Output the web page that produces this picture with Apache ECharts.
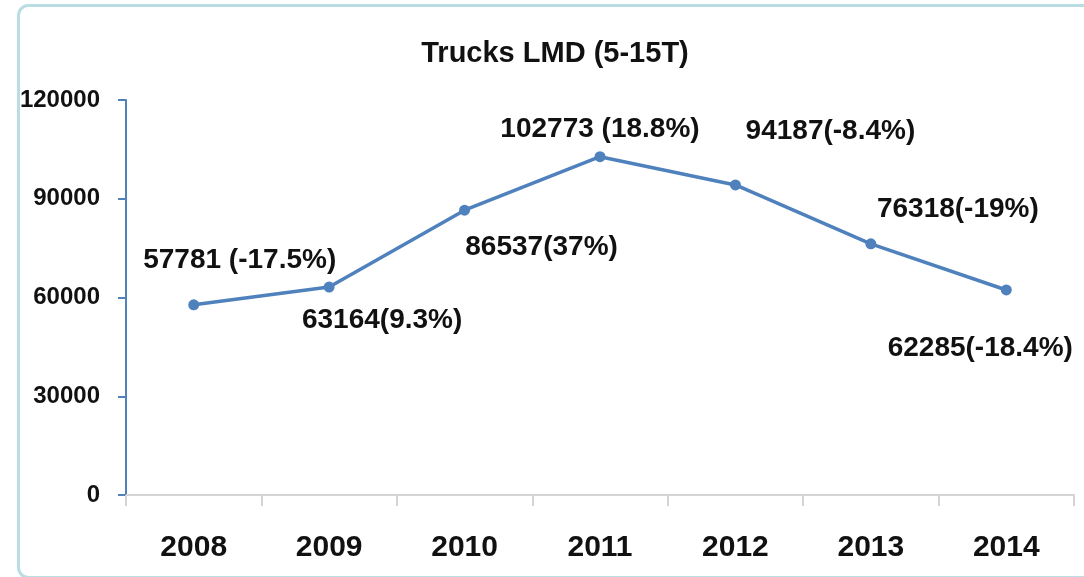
<!DOCTYPE html>
<html>
<head>
<meta charset="utf-8">
<script src="https://cdn.jsdelivr.net/npm/echarts@6/dist/echarts.min.js"></script>
<style>
  html, body { margin: 0; padding: 0; background: #fff; }
  #chart { width: 1084px; height: 577px; }
</style>
</head>
<body>
<div id="chart"></div>
<script>
const years = ['2008', '2009', '2010', '2011', '2012', '2013', '2014'];
const sales = [57781, 63164, 86537, 102773, 94187, 76318, 62285];
const growth = [' (-17.5%)', '(9.3%)', '(37%)', ' (18.8%)', '(-8.4%)', '(-19%)', '(-18.4%)'];
const yTicks = [0, 30000, 60000, 90000, 120000];

// where each value label sits relative to its point
const labelOffsets = [[46, -45], [53, 33], [77, 37], [0, -27], [95, -54], [87, -35], [-26, 58]];

const font = '"Liberation Sans", Arial, sans-serif';

const chart = echarts.init(document.getElementById('chart'));

chart.setOption({
  animation: false,
  graphic: [
    {
      type: 'rect',
      left: 16,
      top: 3,
      shape: { width: 1200, height: 572, r: 10 },
      style: { fill: 'none', stroke: '#b9dde3', lineWidth: 3 },
      silent: true,
    },
  ],
  title: {
    text: 'Trucks LMD (5-15T)',
    left: 550,
    top: 34,
    textAlign: 'center',
    textStyle: {
      fontFamily: font,
      fontWeight: 'bold',
      fontSize: 29,
      color: '#111',
    },
  },
  grid: {
    left: 126,
    right: 10,
    top: 100,
    bottom: 82,
    containLabel: false,
    outerBoundsMode: 'none',
  },
  xAxis: {
    type: 'category',
    data: years,
    boundaryGap: true,
    axisLine: { lineStyle: { color: '#d4d4d4', width: 2 } },
    axisTick: { show: true, length: 11, lineStyle: { color: '#d4d4d4', width: 2 } },
    axisLabel: {
      margin: 38,
      fontFamily: font,
      fontWeight: 'bold',
      fontSize: 30,
      lineHeight: 30,
      color: '#111',
    },
  },
  yAxis: {
    type: 'value',
    min: yTicks[0],
    max: yTicks[yTicks.length - 1],
    interval: 30000,
    axisLine: { show: true, lineStyle: { color: '#4f81bd', width: 2 } },
    axisTick: { show: true, length: 8, lineStyle: { color: '#4f81bd', width: 2 } },
    splitLine: { show: false },
    axisLabel: {
      margin: 26,
      fontFamily: font,
      fontWeight: 'bold',
      fontSize: 24,
      color: '#111',
      formatter: (v) => String(v),
    },
  },
  series: [
    {
      type: 'line',
      data: sales.map((v, i) => ({
        value: v,
        label: { offset: labelOffsets[i] },
      })),
      symbol: 'circle',
      symbolSize: 11,
      itemStyle: { color: '#4f81bd' },
      lineStyle: { color: '#4f81bd', width: 3.5 },
      label: {
        show: true,
        position: 'inside',
        align: 'center',
        verticalAlign: 'middle',
        fontFamily: font,
        fontWeight: 'bold',
        fontSize: 28,
        color: '#111',
        formatter: (p) => p.value + growth[p.dataIndex],
      },
    },
  ],
});
</script>
</body>
</html>
